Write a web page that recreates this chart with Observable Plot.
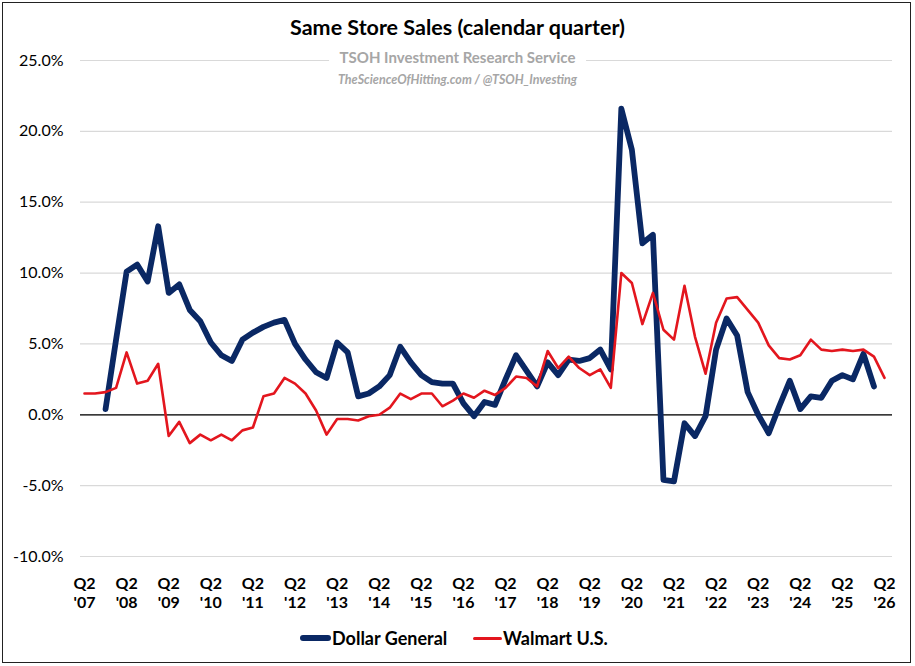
<!DOCTYPE html>
<html>
<head>
<meta charset="utf-8">
<script src="https://cdn.jsdelivr.net/npm/d3@7"></script>
<script src="https://cdn.jsdelivr.net/npm/@observablehq/plot@0.6"></script>
<style>
  body { margin: 0; background: #fff; font-family: Lato, "Open Sans", sans-serif; }
  #wrap { position: relative; width: 915px; height: 666px; overflow: hidden; background: #fff; }
  #chart { position: absolute; left: 0; top: 0; }
  #border { position: absolute; left: 2px; top: 2px; width: 907px; height: 659px; border: 1.5px solid #222; pointer-events: none; }
  .ttl { position: absolute; left: 50%; transform: translateX(-50%); white-space: nowrap; text-align: center; }
  #title { top: 13px; font-size: 21.5px; line-height: 28px; font-weight: bold; color: #000; }
  #sub { top: 47px; font-size: 15px; line-height: 20px; font-weight: bold; color: #a6a6a6; background: #fff; padding: 0 11px; }
  #sub2 { top: 72px; font-size: 12.5px; line-height: 16px; font-weight: bold; font-style: italic; color: #a6a6a6; }
  #legend { position: absolute; top: 627px; left: 0; width: 915px; height: 22px; }
  .li { position: absolute; top: 0; height: 22px; display: flex; align-items: center; font-size: 18px; font-weight: bold; color: #000; }
  .sw { display: inline-block; margin-right: 1px; }
</style>
</head>
<body>
<div id="wrap">
  <div id="chart"></div>
  <div id="title" class="ttl">Same Store Sales (calendar quarter)</div>
  <div id="sub" class="ttl">TSOH Investment Research Service</div>
  <div id="sub2" class="ttl">TheScienceOfHitting.com / @TSOH_Investing</div>
  <div id="legend"></div>
  <div id="border"></div>
</div>
<script>
// Series names and colours
const seriesNames = ["Dollar General", "Walmart U.S."];
const seriesColors = ["#0a2864", "#e3161e"];

// Quarterly categories: Q2 '07 ... Q2 '26 (77 quarters)
const quarters = [];
for (let i = 0; i < 77; i++) {
  const q = ((1 + i) % 4) + 1;
  const yr = 2007 + Math.floor((i + 1) / 4);
  quarters.push("Q" + q + " '" + String(yr).slice(2));
}

// Same store sales, %, aligned to quarters
const dollarGeneral = [
  null, null, 0.4, 5.3, 10.1, 10.6, 9.4, 13.3, 8.6, 9.2,
  7.4, 6.6, 5.1, 4.2, 3.8, 5.3, 5.8, 6.2, 6.5, 6.7,
  5.0, 3.9, 3.0, 2.6, 5.1, 4.4, 1.3, 1.5, 2.0, 2.8,
  4.8, 3.7, 2.8, 2.3, 2.2, 2.2, 0.8, -0.1, 0.9, 0.7,
  2.5, 4.2, 3.1, 2.0, 3.7, 2.8, 3.9, 3.8, 4.0, 4.6,
  3.2, 21.6, 18.7, 12.1, 12.7, -4.6, -4.7, -0.6, -1.5, -0.1,
  4.6, 6.8, 5.6, 1.6, 0.0, -1.3, 0.6, 2.4, 0.4, 1.3,
  1.2, 2.4, 2.8, 2.5, 4.3, 2.0, null
];
const walmartUS = [
  1.5, 1.5, 1.6, 1.9, 4.4, 2.2, 2.4, 3.6, -1.5, -0.5,
  -2.0, -1.4, -1.8, -1.4, -1.8, -1.1, -0.9, 1.3, 1.5, 2.6,
  2.2, 1.5, 0.3, -1.4, -0.3, -0.3, -0.4, -0.1, 0.0, 0.5,
  1.5, 1.1, 1.5, 1.5, 0.6, 1.0, 1.5, 1.2, 1.7, 1.4,
  1.9, 2.7, 2.6, 2.0, 4.5, 3.3, 4.1, 3.3, 2.8, 3.2,
  1.9, 10.0, 9.3, 6.4, 8.6, 6.0, 5.3, 9.1, 5.5, 2.9,
  6.5, 8.2, 8.3, 7.4, 6.5, 4.9, 4.0, 3.9, 4.2, 5.3,
  4.6, 4.5, 4.6, 4.5, 4.6, 4.1, 2.6
];

// Axis tick labels
const xTickLabels = ["Q2\n'07","Q2\n'08","Q2\n'09","Q2\n'10","Q2\n'11","Q2\n'12","Q2\n'13","Q2\n'14","Q2\n'15","Q2\n'16",
  "Q2\n'17","Q2\n'18","Q2\n'19","Q2\n'20","Q2\n'21","Q2\n'22","Q2\n'23","Q2\n'24","Q2\n'25","Q2\n'26"];
const yTicks = [-10, -5, 0, 5, 10, 15, 20, 25];

const rows = quarters.map((q, i) => ({ i, q, dg: dollarGeneral[i], wm: walmartUS[i] }));
const xTicks = xTickLabels.map((_, k) => k * 4);

const chart = Plot.plot({
  width: 915,
  height: 620,
  marginLeft: 80,
  marginRight: 23,
  marginTop: 60,
  marginBottom: 64,
  style: { fontFamily: "Lato, 'Open Sans', sans-serif", background: "transparent" },
  x: { type: "linear", domain: [-0.38, 76.76] },
  y: { domain: [-10, 25] },
  marks: [
    Plot.gridY(yTicks, { stroke: "#d9d9d9", strokeOpacity: 1, strokeWidth: 1.2 }),
    Plot.ruleY([0], { stroke: "#000", strokeWidth: 1.2 }),
    Plot.axisY(yTicks, { tickSize: 0, tickPadding: 17, fontSize: 16, fill: "#000",
      tickFormat: d => d.toFixed(1) + "%", label: null }),
    Plot.axisX(xTicks, { tickSize: 0, tickPadding: 19, fontSize: 16, fontWeight: "bold", fill: "#000",
      lineHeight: 1.2, tickFormat: (d) => xTickLabels[d / 4], label: null }),
    Plot.line(rows, { x: "i", y: "dg", stroke: seriesColors[0], strokeWidth: 5.8,
      strokeLinejoin: "round", strokeLinecap: "round" }),
    Plot.line(rows, { x: "i", y: "wm", stroke: seriesColors[1], strokeWidth: 2.6,
      strokeLinejoin: "round", strokeLinecap: "round" })
  ]
});
document.getElementById("chart").appendChild(chart);

// Legend
const legend = document.getElementById("legend");
const legendPos = [{ left: 300, w: 31, h: 5.5 }, { left: 473, w: 29, h: 3 }];
seriesNames.forEach((name, k) => {
  const item = document.createElement("div");
  item.className = "li";
  item.style.left = legendPos[k].left + "px";
  const sw = document.createElement("span");
  sw.className = "sw";
  sw.style.width = legendPos[k].w + "px";
  sw.style.height = legendPos[k].h + "px";
  sw.style.background = seriesColors[k];
  sw.style.borderRadius = "3px";
  item.appendChild(sw);
  item.appendChild(document.createTextNode(name));
  legend.appendChild(item);
});
</script>
</body>
</html>
